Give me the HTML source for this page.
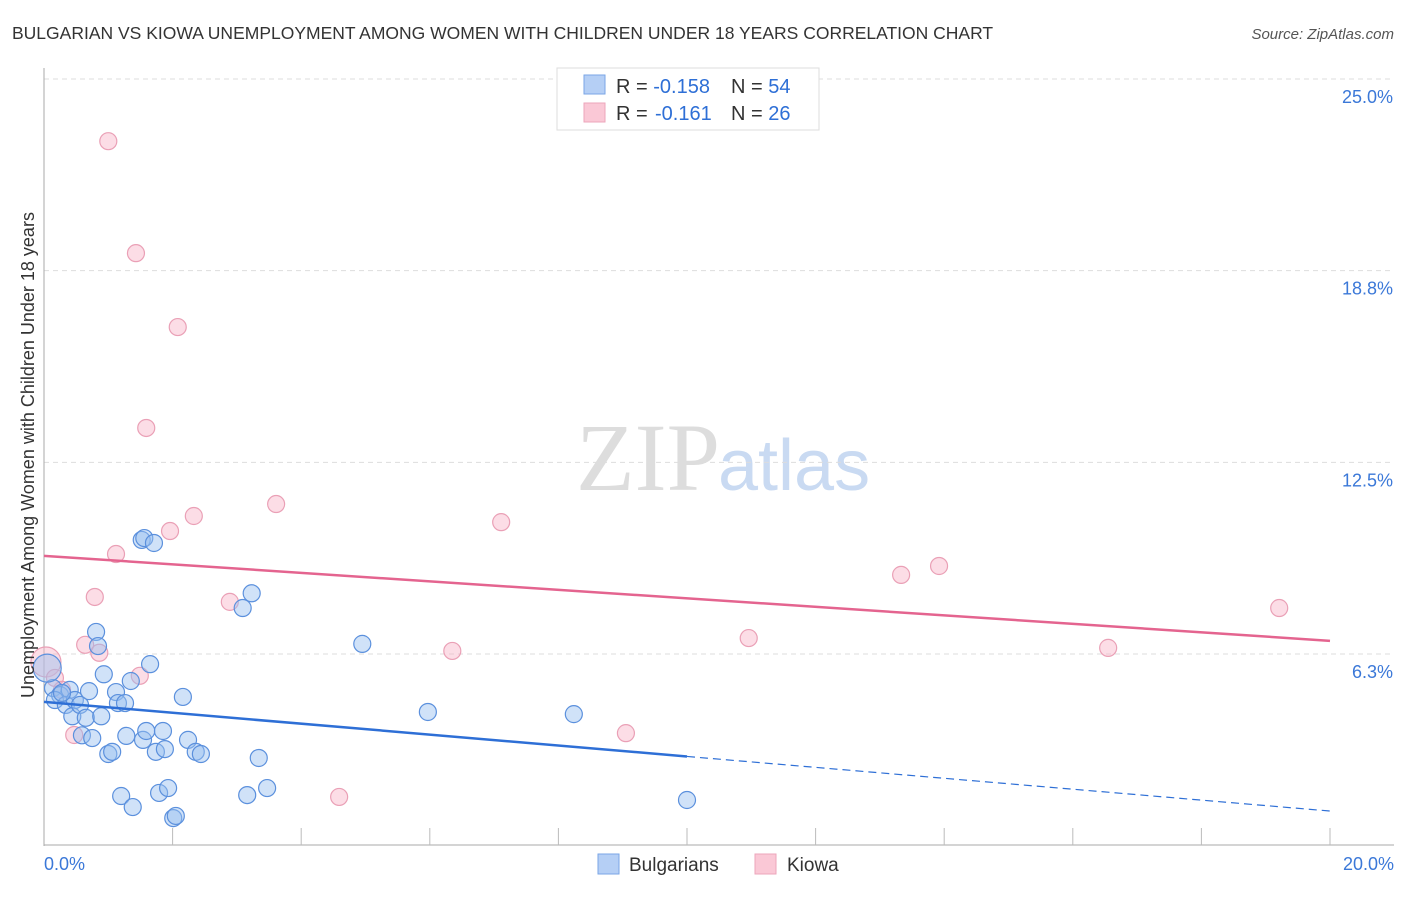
<!DOCTYPE html>
<html><head><meta charset="utf-8"><style>
body{margin:0;background:#fff;font-family:"Liberation Sans",sans-serif;}
</style></head><body>
<svg id="c" width="1406" height="892" xmlns="http://www.w3.org/2000/svg">
<text x="12" y="39" font-size="17.5" fill="#333">BULGARIAN VS KIOWA UNEMPLOYMENT AMONG WOMEN WITH CHILDREN UNDER 18 YEARS CORRELATION CHART</text>
<text x="1394" y="39" font-size="15" fill="#555" text-anchor="end" font-style="italic">Source: ZipAtlas.com</text>
<text x="720" y="490" font-size="96" fill="#ddd" text-anchor="end" font-family="Liberation Serif,serif">ZIP</text>
<text x="718" y="490" font-size="72" fill="#c9daf2">atlas</text>
<g id="grid"></g><g id="pts"></g><g id="lines"></g>
<text transform="translate(34,455) rotate(-90)" font-size="18" fill="#333" text-anchor="middle">Unemployment Among Women with Children Under 18 years</text>
<g>
<rect x="557" y="68" width="262" height="62" fill="#fff" stroke="#ddd"/>
<rect x="584" y="75" width="21" height="19" fill="#b5cff5" stroke="#7aa6e6"/>
<rect x="584" y="103" width="21" height="19" fill="#fac8d6" stroke="#eca6bb"/>
<text x="616" y="93" font-size="20" fill="#333">R = <tspan fill="#2e6fd6">-0.158</tspan><tspan x="731">N = </tspan><tspan fill="#2e6fd6">54</tspan></text>
<text x="616" y="120" font-size="20" fill="#333">R = <tspan fill="#2e6fd6" x="655">-0.161</tspan><tspan x="731">N = </tspan><tspan fill="#2e6fd6">26</tspan></text>
</g>
<g>
<rect x="598" y="854" width="21" height="20" fill="#b5cff5" stroke="#7aa6e6"/>
<text x="629" y="871" font-size="19" fill="#333">Bulgarians</text>
<rect x="755" y="854" width="21" height="20" fill="#fac8d6" stroke="#eca6bb"/>
<text x="787" y="871" font-size="19" fill="#333">Kiowa</text>
</g>
</svg>
<script>
const xTickLabels=["0.0%","20.0%"];
const yTicks=[25,18.75,12.5,6.25];
const yTickLabels=["25.0%","18.8%","12.5%","6.3%"];
const bulX=[0.14,0.25,0.40,0.17,0.34,0.48,0.28,0.44,0.56,0.65,0.70,0.81,0.84,0.93,0.89,0.59,0.75,1.00,1.06,1.12,1.15,1.20,1.26,1.28,1.35,1.38,1.52,1.56,1.65,1.71,1.54,1.59,1.74,1.79,1.85,1.88,1.93,2.01,2.05,2.16,2.24,2.36,2.44,3.09,3.16,3.23,3.34,3.47,4.95,5.97,8.24,10.0,0.05];
const bulY=[5.14,4.91,5.08,4.75,4.59,4.75,4.98,4.22,4.59,4.17,5.04,6.97,6.51,5.59,4.22,3.60,3.51,2.99,3.06,5.01,4.65,1.62,4.65,3.58,5.37,1.26,9.97,10.03,5.92,9.87,3.45,3.74,3.06,1.72,3.74,3.15,1.88,0.90,0.97,4.85,3.45,3.06,2.99,7.75,1.65,8.23,2.86,1.88,6.58,4.36,4.29,1.49,5.79];
const kioX=[1.00,1.43,2.08,1.59,3.61,2.33,7.11,1.96,1.12,0.79,2.89,0.64,0.86,1.49,0.03,0.17,0.47,6.35,10.96,4.59,9.05,13.33,13.92,16.55,19.21,0.28];
const kioY=[22.97,19.32,16.91,13.62,11.14,10.75,10.55,10.26,9.51,8.11,7.95,6.55,6.29,5.54,5.99,5.47,3.61,6.35,6.77,1.59,3.67,8.83,9.12,6.45,7.75,5.08];
const bulTrend=[4.69,1.13];
const kioTrend=[9.45,6.68];
const NS="http://www.w3.org/2000/svg";
const X=v=>44+v*64.3;
const Y=v=>845.7-v*30.67;
function mk(tag,attrs,parent){const e=document.createElementNS(NS,tag);for(const k in attrs)e.setAttribute(k,attrs[k]);document.getElementById(parent).appendChild(e);return e;}
const g='grid';
yTicks.forEach((t,i)=>{
 const l=mk('line',{x1:44,x2:1394,y1:Y(t),y2:Y(t),stroke:'#ddd','stroke-dasharray':'5,4'},g);
 
 
 const tx=mk('text',{x:1393,y:Y(t)+24,'font-size':18,fill:'#3b78d8','text-anchor':'end'},g);
 tx.textContent=yTickLabels[i];
 
 
});
const ax=mk('line',{x1:44,x2:44,y1:68,y2:846,stroke:'#aaa'},g);


const bx=mk('line',{x1:44,x2:1394,y1:845,y2:845,stroke:'#aaa'},g);


for(let v=2;v<=20;v+=2){
 const t=mk('line',{x1:X(v),x2:X(v),y1:828,y2:845,stroke:'#bbb'},g);
 
 
}
[[0,'start',44],[20,'end',1394]].forEach((a,i)=>{
 const t=mk('text',{x:a[2],y:870,'font-size':18,fill:'#3b78d8','text-anchor':a[1]},g);
 t.textContent=xTickLabels[i];
 
 
});
kioX.forEach((x,i)=>{
 const c=mk('circle',{cx:X(x),cy:Y(kioY[i]),r:i==14?15:8.5,fill:'rgba(248,180,200,0.45)',stroke:'#eaa0b6','stroke-width':1.2},'pts');
 
 
});
bulX.forEach((x,i)=>{
 const c=mk('circle',{cx:X(x),cy:Y(bulY[i]),r:i==52?14:8.5,fill:'rgba(150,190,240,0.45)',stroke:'#5b90dd','stroke-width':1.2},'pts');
 
 
});
const bm=bulTrend[0]+(bulTrend[1]-bulTrend[0])*0.5;
let l=mk('line',{x1:X(0),y1:Y(bulTrend[0]),x2:X(10),y2:Y(bm),stroke:'#2e6fd6','stroke-width':2.5},'lines');


l=mk('line',{x1:X(10),y1:Y(bm),x2:X(20),y2:Y(bulTrend[1]),stroke:'#2e6fd6','stroke-width':1.2,'stroke-dasharray':'8,5'},'lines');


l=mk('line',{x1:X(0),y1:Y(kioTrend[0]),x2:X(20),y2:Y(kioTrend[1]),stroke:'#e4648f','stroke-width':2.5},'lines');


</script>
</body></html>
